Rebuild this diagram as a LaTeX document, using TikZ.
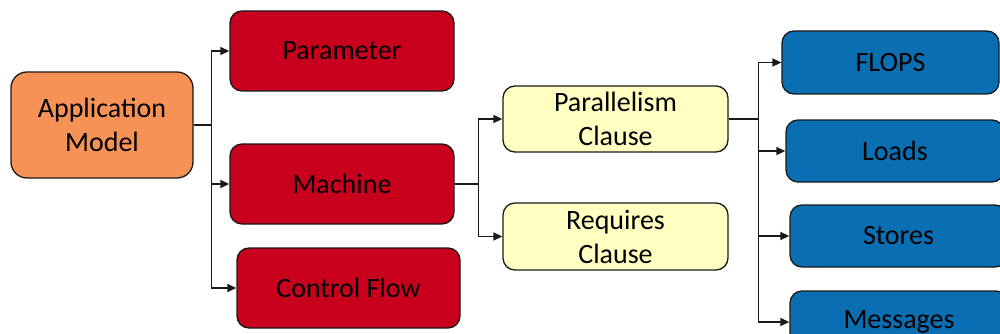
\documentclass[tikz,border=0pt]{standalone}
\usepackage{fontspec}
\setmainfont{Carlito}
\usetikzlibrary{arrows.meta}
\definecolor{appfill}{HTML}{F79256}
\definecolor{redfill}{HTML}{C8001E}
\definecolor{clausefill}{HTML}{FFFFC2}
\definecolor{bluefill}{HTML}{0A6FB2}
\definecolor{edgecol}{HTML}{1A1A1A}
\tikzset{
  box/.style={draw=edgecol, line width=1.3pt, rounded corners=12pt, align=center,
    inner sep=0pt, font=\fontsize{28}{34}\selectfont, text=black},
  appbox/.style={box, fill=appfill, rounded corners=16pt},
  redbox/.style={box, fill=redfill},
  clausebox/.style={box, fill=clausefill},
  bluebox/.style={box, fill=bluefill},
  link/.style={draw=edgecol, line width=1.4pt, -{Triangle[length=9pt,width=8pt]}}
}
\begin{document}
\begin{tikzpicture}[x=1pt,y=-1pt]
\useasboundingbox (0,0) rectangle (1000,334);
% application model
\node[appbox, minimum width=182pt, minimum height=106pt] (app) at (102,125) {Application\\Model};
% first level
\node[redbox, minimum width=224pt, minimum height=80pt] (param) at (342,51) {Parameter};
\node[redbox, minimum width=224pt, minimum height=80pt] (mach) at (342,184) {Machine};
\node[redbox, minimum width=223pt, minimum height=80pt] (ctrl) at (348.5,288) {Control Flow};
% clauses
\node[clausebox, minimum width=225pt, minimum height=66pt] (par) at (615.5,119) {Parallelism\\Clause};
\node[clausebox, minimum width=225pt, minimum height=67pt] (req) at (615.5,236.5) {Requires\\Clause};
% metrics
\node[bluebox, minimum width=217pt, minimum height=63pt] (flops) at (890.5,62.5) {FLOPS};
\node[bluebox, minimum width=218pt, minimum height=62pt] (loads) at (895,151) {Loads};
\node[bluebox, minimum width=217pt, minimum height=62pt] (stores) at (898.5,236) {Stores};
\node[bluebox, minimum width=218pt, minimum height=62pt] (msgs) at (899,322) {Messages};
% connectors
\foreach \t in {param,mach,ctrl}
  \draw[link] (app.east) -- ++(18,0) |- (\t.west);
\foreach \t in {par,req}
  \draw[link] (mach.east) -- ++(24,0) |- (\t.west);
\foreach \t in {flops,loads,stores,msgs}
  \draw[link] (par.east) -- ++(30,0) |- (\t.west);
\end{tikzpicture}
\end{document}
